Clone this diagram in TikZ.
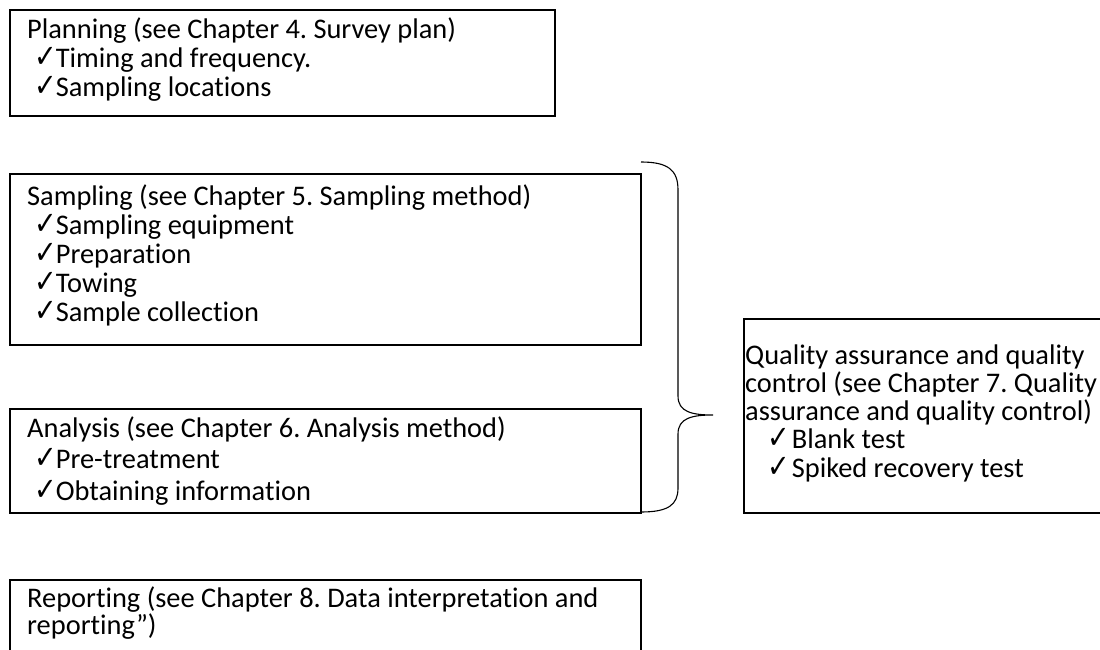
\documentclass[tikz,border=0pt]{standalone}
\usepackage{fontspec}
\setmainfont[Ligatures=NoCommon]{Carlito}
\newfontfamily\ckfont{DejaVu Sans}
\newcommand{\mycheck}{{\ckfont\fontsize{25}{25}\selectfont\scalebox{1.08}[1.28]{✓}}}
\frenchspacing
\begin{document}
\begin{tikzpicture}[x=1pt,y=-1pt,
  box/.style={draw=black,line width=2pt,anchor=north west,inner sep=0pt,fill=none},
  txt/.style={anchor=base west,inner sep=0pt,font=\fontsize{28.4}{29}\selectfont},
  brace/.style={draw=black,line width=1.1pt}]
\useasboundingbox[fill=white] (0,0) rectangle (1100,650);
% boxes
\node[box,minimum width=545pt,minimum height=106pt] (plan) at (9,9) {};
\node[box,minimum width=631pt,minimum height=171pt] (samp) at (9,173) {};
\node[box,minimum width=631pt,minimum height=104pt] (anal) at (9,408) {};
\node[box,minimum width=370pt,minimum height=194pt] (qa) at (743,318) {};
\node[box,minimum width=631pt,minimum height=100pt] (rep) at (9,579) {};
% texts
\newcommand{\ci}{\hspace{7pt}\mycheck\hspace{-1pt}}
\newcommand{\cq}{\hspace{22pt}\mycheck\hspace{2pt}}
\node[txt] (plant) at (27,39) {\vtop{\lineskiplimit=-100pt\baselineskip=28.7pt
  \hbox{Planning (see Chapter 4. Survey plan)}
  \hbox{\ci Timing and frequency.}
  \hbox{\ci Sampling locations}}};
\node[txt] (sampt) at (27,205) {\vtop{\lineskiplimit=-100pt\baselineskip=29pt
  \hbox{Sampling (see Chapter 5. Sampling method)}
  \hbox{\ci Sampling equipment}
  \hbox{\ci Preparation}
  \hbox{\ci Towing}
  \hbox{\ci Sample collection}}};
\node[txt] (analt) at (27,437) {\vtop{\lineskiplimit=-100pt\baselineskip=31.5pt
  \hbox{Analysis (see Chapter 6. Analysis method)}
  \hbox{\ci Pre-treatment}
  \hbox{\ci Obtaining information}}};
\node[txt] (qat) at (745,364) {\vtop{\lineskiplimit=-100pt\baselineskip=28.3pt
  \hbox{Quality assurance and quality}
  \hbox{control (see Chapter 7. Quality}
  \hbox{assurance and quality control)}
  \hbox{\cq Blank test}
  \hbox{\cq Spiked recovery test}}};
\node[txt] (rept) at (27,607) {\vtop{\lineskiplimit=-100pt\baselineskip=27pt
  \hbox{Reporting (see Chapter 8. Data interpretation and}
  \hbox{reporting”)}}};
% brace
\coordinate (bt) at (641,162);
\coordinate (bb) at (641,512);
\coordinate (tip) at (713,415);
\draw[brace] (bt) .. controls (668,162) and (678,170) .. (678,190)
  -- (678,396) .. controls (678,412) and (692,415) .. (tip)
  .. controls (692,415) and (678,418) .. (678,434)
  -- (678,488) .. controls (678,505) and (668,512) .. (bb);
\end{tikzpicture}
\end{document}
